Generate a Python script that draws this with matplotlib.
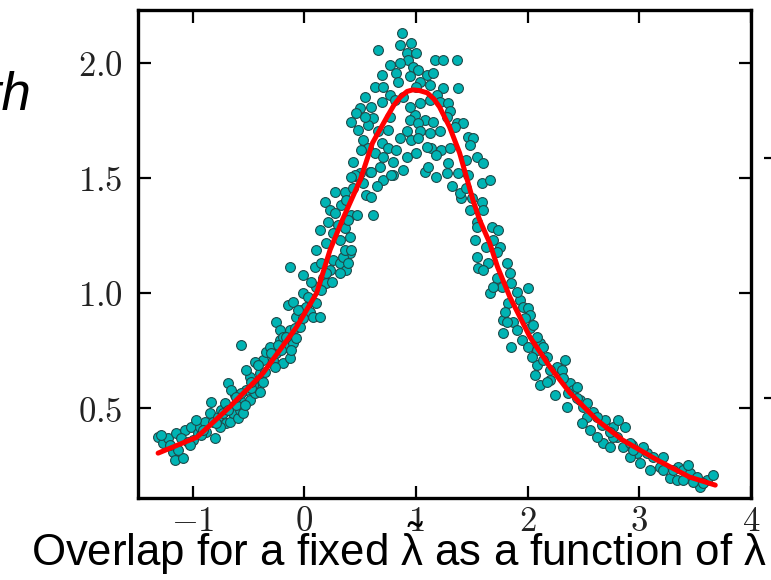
import numpy as np
from matplotlib import pyplot as plt
from matplotlib import font_manager

# scatter samples (overlap vs lambda)
pts_x = [
    -1.311, -1.266, -1.221, -1.176, -1.161, -1.087, -1.131, -1.146, -1.072, -1.012,
    -0.997, -0.952, -0.937, -0.893, -0.878, -0.848, -0.818, -0.803, -0.833, -0.773,
    -0.743, -0.713, -0.698, -0.669, -0.639, -0.624, -0.594, -0.579, -0.549, -0.579,
    -0.489, -0.519, -0.445, -0.430, -0.400, -0.370, -0.684, -0.654, -1.206, -1.102,
    -1.042, -0.922, -0.758, -0.728, -0.609, -0.534, -0.459,
    -1.281, -1.027, -0.967, -0.907, -0.788, -0.683, -0.564, -0.474,
    -0.489, -0.400, -0.370, -0.340, -0.310, -0.280, -0.250, -0.220, -0.190, -0.131,
    -0.161, -0.101, -0.250, -0.220, -0.190, -0.131, -0.086, -0.564, -0.071, -0.041,
    -0.146, -0.101, -0.026, -0.011, 0.019, 0.048, 0.078, 0.138, 0.063, 0.108,
    0.168, 0.198, 0.228, -0.011, 0.093, 0.153, 0.258, 0.317, 0.377, 0.407,
    -0.131, 0.317, -0.444, -0.519,
    -0.609, -0.474, -0.415, -0.355, -0.295, -0.265, -0.205, -0.235, -0.161, -0.116,
    -0.071, -0.056, -0.011, 0.034, 0.108, 0.153, 0.198, 0.243, 0.063, 0.347, 0.392,
    0.496, 0.586, 0.795, 0.706, 0.646, 0.526, 0.272, 0.362, 0.437, 0.556,
    0.601, 0.183, 0.332, 0.228, 0.272, 0.213, 0.302, 0.422, 0.467, 0.616,
    0.362, 0.407, 0.317, 0.108, 0.362, 0.422, 1.079,
    0.377, 0.138, 0.257, 0.198, 0.392, 0.481,
    0.870, 0.855, 0.959, 0.661, 0.915, 1.004, 0.930, 1.169, 1.243, 1.363,
    0.765, 0.855, 0.974, 1.019, 0.825, 0.944, 1.094, 1.153, 0.691, 0.840,
    1.034, 1.124, 0.631, 1.378, 1.243, 0.541, 0.765, 0.885, 1.184, 0.691,
    0.810, 1.213, 0.496, 0.601, 1.034, 1.288, 1.303, 0.466, 0.765, 0.989,
    0.616, 1.079, 1.153, 0.422, 0.571, 0.944, 1.019, 1.363, 1.422, 0.481,
    0.661, 0.750, 0.915, 1.034, 1.124, 1.213, 1.348, 0.526, 0.855, 0.959,
    1.019, 1.467, 1.512, 1.482, 0.571, 0.691, 0.750, 0.825, 1.138, 1.228,
    1.303, 0.631, 0.706, 0.915, 1.183, 0.437, 0.795, 1.109, 1.288, 1.542,
    0.452, 0.601, 0.780, 1.273, 1.378, 1.467, 0.422,
    0.706, 1.004, 1.124, 0.944, 0.541, 1.273, 1.094, 1.004, 1.452, 0.511,
    0.676, 0.885, 1.183,
    1.602, 1.318, 1.587, 1.661, 1.407, 1.497, 1.587, 1.482, 1.542, 1.676,
    1.736, 1.527, 1.631, 1.751,
    1.542, 1.691, 1.602, 1.392, 1.452,
    1.542, 1.557, 1.646, 1.721, 1.721, 1.766, 1.841, 1.855, 2.005, 1.661,
    1.826, 1.930, 1.960, 2.005, 2.020, 1.781, 1.870, 1.781, 2.020, 2.050,
    1.855, 1.945, 2.005, 2.080, 2.109, 2.139, 2.080, 2.169, 2.334, 2.259,
    2.304, 2.065, 2.109, 2.199, 2.244, 2.378, 2.408, 2.438, 2.348, 2.468,
    2.498, 2.587, 2.528, 2.483, 2.558, 2.662, 2.692, 2.767, 2.871, 2.677,
    2.796, 2.856, 2.931, 2.976, 3.065, 3.095, 3.215, 3.185, 3.274, 3.349,
    3.394, 3.453, 3.513, 3.543, 3.603, 3.663, 3.439, 3.334, 3.006, 2.916,
    2.767, 2.617,
    1.602, 1.811, 1.691, 1.900, 1.796, 1.975, 1.900, 1.811, 2.080, 2.035,
    2.139, 2.199, 2.169, 2.318, 2.363, 2.438, 2.528, 2.617, 2.737, 2.811,
    2.916, 3.035, 3.125, 3.215, 3.304, 3.394, 3.483, 3.573, 2.737, 2.946,
]
pts_y = [
    0.376, 0.347, 0.368, 0.310, 0.274, 0.281, 0.318, 0.390, 0.405, 0.419,
    0.361, 0.390, 0.419, 0.441, 0.397, 0.477, 0.441, 0.368, 0.528, 0.463,
    0.492, 0.521, 0.434, 0.441, 0.477, 0.557, 0.455, 0.492, 0.477, 0.535,
    0.535, 0.579, 0.564, 0.600, 0.571, 0.615, 0.608, 0.579, 0.339, 0.368,
    0.354, 0.383, 0.419, 0.477, 0.513, 0.513, 0.600,
    0.383, 0.339, 0.448, 0.405, 0.434, 0.492, 0.564, 0.586,
    0.636, 0.651, 0.709, 0.745, 0.767, 0.709, 0.738, 0.796, 0.694, 0.716,
    0.767, 0.781, 0.875, 0.839, 0.810, 0.839, 0.846, 0.774, 0.897, 0.854,
    0.948, 0.962, 0.926, 0.999, 0.941, 0.919, 0.897, 0.897, 0.970, 1.028,
    1.064, 1.042, 1.100, 1.078, 1.115, 1.129, 1.144, 1.129, 1.100, 1.173,
    1.115, 1.086, 0.702, 0.665,
    0.549, 0.615, 0.687, 0.658, 0.738, 0.680, 0.752, 0.774, 0.810, 0.752,
    0.803, 0.926, 0.890, 0.984, 0.955, 1.013, 1.086, 1.049, 1.049, 1.158, 1.129,
    1.521, 1.528, 1.513, 1.492, 1.463, 1.477, 1.441, 1.441, 1.455, 1.426,
    1.419, 1.397, 1.383, 1.361, 1.347, 1.310, 1.296, 1.339, 1.339, 1.339,
    1.281, 1.245, 1.231, 1.187, 1.187, 1.187, 1.528,
    1.405, 1.274, 1.260, 1.216, 1.318, 1.506,
    2.129, 2.078, 2.086, 2.057, 2.042, 2.042, 2.013, 2.013, 2.013, 2.013,
    1.991, 1.999, 1.984, 1.970, 1.955, 1.941, 1.948, 1.955, 1.948, 1.919,
    1.919, 1.904, 1.897, 1.890, 1.890, 1.854, 1.861, 1.854, 1.861, 1.832,
    1.839, 1.832, 1.803, 1.810, 1.825, 1.825, 1.789, 1.781, 1.767, 1.774,
    1.760, 1.752, 1.745, 1.745, 1.731, 1.752, 1.738, 1.738, 1.738, 1.709,
    1.702, 1.709, 1.702, 1.702, 1.694, 1.702, 1.723, 1.665, 1.673, 1.665,
    1.673, 1.680, 1.673, 1.644, 1.629, 1.651, 1.629, 1.622, 1.629, 1.622,
    1.629, 1.607, 1.593, 1.593, 1.600, 1.571, 1.571, 1.549, 1.564, 1.593,
    1.513, 1.528, 1.513, 1.520, 1.520, 1.513, 1.506,
    1.897, 1.897, 1.839, 1.810, 1.767, 1.767, 1.636, 1.607, 1.578, 1.622,
    1.549, 1.535, 1.506,
    1.564, 1.463, 1.477, 1.492, 1.412, 1.412, 1.397, 1.361, 1.310, 1.289,
    1.274, 1.231, 1.202, 1.202,
    1.289, 1.231, 1.361, 1.434, 1.455,
    1.158, 1.107, 1.129, 1.180, 1.064, 1.028, 1.086, 1.042, 1.020, 0.999,
    0.955, 0.970, 0.941, 0.933, 0.904, 0.883, 0.875, 0.825, 0.846, 0.861,
    0.767, 0.796, 0.767, 0.752, 0.781, 0.767, 0.687, 0.723, 0.709, 0.680,
    0.665, 0.644, 0.600, 0.622, 0.557, 0.607, 0.578, 0.593, 0.506, 0.535,
    0.506, 0.484, 0.462, 0.433, 0.405, 0.426, 0.448, 0.419, 0.419, 0.347,
    0.376, 0.332, 0.339, 0.303, 0.303, 0.231, 0.289, 0.245, 0.194, 0.245,
    0.231, 0.216, 0.202, 0.158, 0.187, 0.209, 0.252, 0.187, 0.260, 0.289,
    0.376, 0.376,
    1.100, 1.129, 1.028, 1.006, 0.919, 0.890, 0.839, 0.875, 0.810, 0.723,
    0.709, 0.665, 0.615, 0.629, 0.564, 0.542, 0.520, 0.462, 0.397, 0.448,
    0.347, 0.332, 0.289, 0.231, 0.231, 0.187, 0.180, 0.173, 0.332, 0.318,
]

# fitted curve
fit_x = [-1.31, -0.96, -0.67, -0.37, -0.07, 0.11, 0.23, 0.34, 0.50, 0.61,
         0.74, 0.80, 0.86, 0.92, 0.97, 1.03, 1.10, 1.16, 1.21, 1.30,
         1.39, 1.51, 1.57, 1.66, 1.73, 1.84, 2.02, 2.20, 2.38, 2.62,
         2.85, 3.16, 3.45, 3.68]
fit_y = [0.304, 0.374, 0.504, 0.652, 0.852, 1.000, 1.187, 1.317, 1.491, 1.652,
         1.765, 1.815, 1.852, 1.876, 1.883, 1.880, 1.870, 1.843, 1.809, 1.722,
         1.609, 1.404, 1.317, 1.217, 1.113, 0.983, 0.809, 0.678, 0.565, 0.448,
         0.361, 0.274, 0.200, 0.165]

xticks = [-1, 0, 1, 2, 3, 4]
yticks = [0.5, 1.0, 1.5, 2.0]

installed = {f.name for f in font_manager.fontManager.ttflist}
slide_font = "Liberation Sans Narrow" if "Liberation Sans Narrow" in installed else "Liberation Sans"
text_size = 38 if slide_font == "Liberation Sans Narrow" else 31.5

plt.rcParams["mathtext.fontset"] = "cm"
plt.rcParams["mathtext.rm"] = slide_font

fig = plt.figure(figsize=(7.71, 5.80), dpi=100)
ax = fig.add_axes([138 / 771, 1 - 498 / 580, 613 / 771, 488 / 580])

ax.scatter(pts_x, pts_y, s=50, c="#00b4b4", edgecolors="#1f4a4a", linewidths=0.8, zorder=2)
ax.plot(fit_x, fit_y, color="red", lw=3.6, zorder=3, solid_capstyle="round", solid_joinstyle="round")

ax.set_xlim(-1.49, 4.0)
ax.set_ylim(0.109, 2.23)
ax.set_xticks(xticks)
ax.set_yticks(yticks)
ax.set_xticklabels(["$%s$" % ("-1" if t < 0 else str(t)) for t in xticks])
ax.set_yticklabels(["$%.1f$" % t for t in yticks])
ax.tick_params(direction="in", length=9, width=1.6, top=True, right=True,
               labelsize=25, labelcolor="#222222")
ax.tick_params(axis="x", pad=4)
ax.tick_params(axis="y", pad=11)
for sp in ax.spines.values():
    sp.set_linewidth(2.4)

# slide text around the plot
fig.text(767 / 771, 1 - 566 / 580, r"Overlap for a fixed $\tilde{\mathrm{\lambda}}$ as a function of $\mathrm{\lambda}$",
         ha="right", va="baseline", fontsize=text_size, family=slide_font, math_fontfamily="custom")
fig.text(31 / 771, 1 - 110 / 580, "with", ha="right", va="baseline", fontsize=38,
         family="Liberation Sans", style="italic")

# edge of the neighbouring panel
ax2 = fig.add_axes([775 / 771, 0.0, 0.2, 1.0])
ax2.set_ylim(0, 580)
ax2.invert_yaxis()
ax2.set_yticks([158, 398])
ax2.set_yticklabels([])
ax2.set_xticks([])
ax2.tick_params(direction="out", length=8, width=1.6)
for sp in ax2.spines.values():
    sp.set_visible(False)

fig.savefig("out.png", dpi=100)
